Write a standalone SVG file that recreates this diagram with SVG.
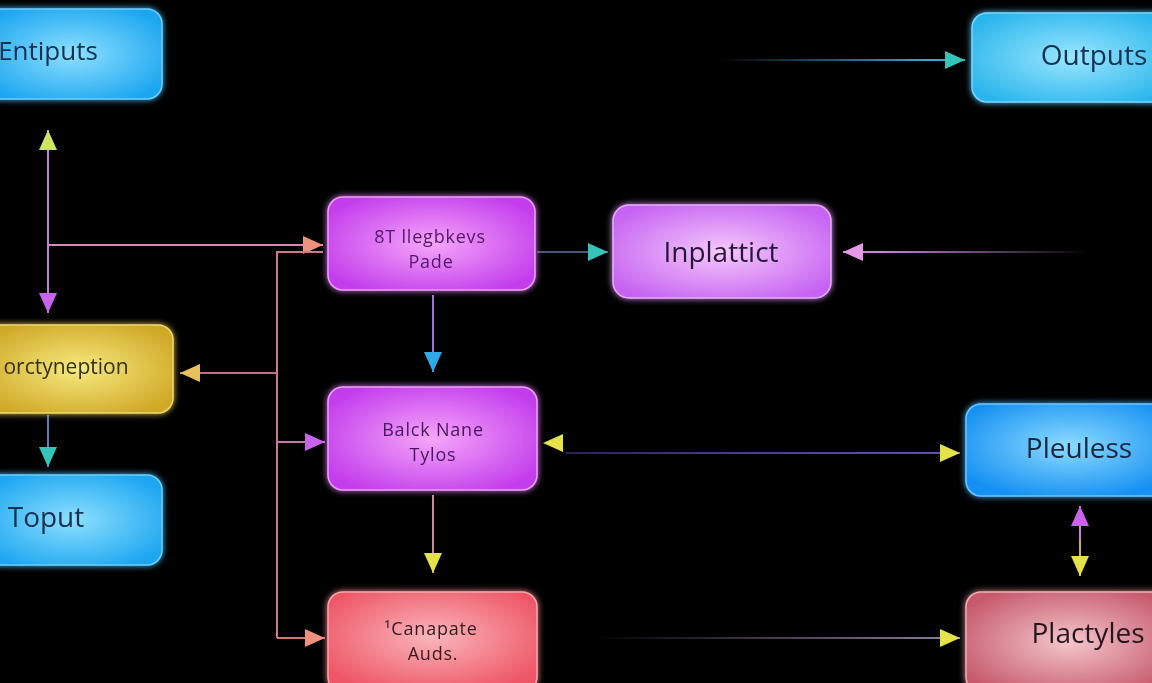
<svg xmlns="http://www.w3.org/2000/svg" width="1152" height="683" viewBox="0 0 1152 683">
<style>
.lbl{font-family:"Open Sans","Liberation Sans",sans-serif;text-anchor:middle;font-weight:500}
.big{font-size:28px}
.mid{font-size:18px;letter-spacing:0.8px}
.box{stroke-width:1.5}
.ln{fill:none;stroke-width:2}
</style>
<defs>
<filter id="glow" x="-20%" y="-20%" width="140%" height="140%">
<feGaussianBlur in="SourceGraphic" stdDeviation="3" result="b"/>
<feMerge><feMergeNode in="b"/><feMergeNode in="SourceGraphic"/></feMerge>
</filter>
<radialGradient id="gBlue" cx="50%" cy="50%" r="60%"><stop offset="0" stop-color="#8ee0ff"/><stop offset="1" stop-color="#1ca6f0"/></radialGradient>
<radialGradient id="gCyan" cx="50%" cy="50%" r="60%"><stop offset="0" stop-color="#9ae6ff"/><stop offset="1" stop-color="#2cb6ec"/></radialGradient>
<radialGradient id="gBlue2" cx="50%" cy="45%" r="60%"><stop offset="0" stop-color="#8cdcff"/><stop offset="1" stop-color="#1690f2"/></radialGradient>
<radialGradient id="gMag" cx="50%" cy="50%" r="60%"><stop offset="0" stop-color="#f6a6fa"/><stop offset="1" stop-color="#c23cec"/></radialGradient>
<radialGradient id="gLil" cx="50%" cy="50%" r="60%"><stop offset="0" stop-color="#f6c8fb"/><stop offset="1" stop-color="#c664f2"/></radialGradient>
<radialGradient id="gYel" cx="50%" cy="50%" r="60%"><stop offset="0" stop-color="#f6ea80"/><stop offset="1" stop-color="#cfa826"/></radialGradient>
<radialGradient id="gRed" cx="50%" cy="45%" r="60%"><stop offset="0" stop-color="#fab6bc"/><stop offset="1" stop-color="#ee5666"/></radialGradient>
<radialGradient id="gPink" cx="50%" cy="50%" r="60%"><stop offset="0" stop-color="#f4c6cc"/><stop offset="1" stop-color="#c65a6c"/></radialGradient>
<linearGradient id="fOut" gradientUnits="userSpaceOnUse" x1="720" y1="0" x2="930" y2="0"><stop offset="0" stop-color="#3aa8d0" stop-opacity="0"/><stop offset="1" stop-color="#3aa8d0"/></linearGradient>
<linearGradient id="fInp" gradientUnits="userSpaceOnUse" x1="1090" y1="0" x2="880" y2="0"><stop offset="0" stop-color="#c888d8" stop-opacity="0"/><stop offset="1" stop-color="#c888d8"/></linearGradient>
<linearGradient id="fPle" gradientUnits="userSpaceOnUse" x1="560" y1="0" x2="945" y2="0"><stop offset="0" stop-color="#5040a8" stop-opacity="0.5"/><stop offset="0.5" stop-color="#4a3c9e"/><stop offset="1" stop-color="#6050b8"/></linearGradient>
<linearGradient id="fPla" gradientUnits="userSpaceOnUse" x1="590" y1="0" x2="940" y2="0"><stop offset="0" stop-color="#7a6a90" stop-opacity="0"/><stop offset="1" stop-color="#8a7898"/></linearGradient>
<marker id="aTeal" viewBox="0 0 20 18" refX="20" refY="9" markerWidth="20" markerHeight="18" markerUnits="userSpaceOnUse" orient="auto"><path d="M0,0L20,9L0,18z" fill="#34c4b8"/></marker>
<marker id="aYel" viewBox="0 0 20 18" refX="20" refY="9" markerWidth="20" markerHeight="18" markerUnits="userSpaceOnUse" orient="auto"><path d="M0,0L20,9L0,18z" fill="#e4e24a"/></marker>
<marker id="aGold" viewBox="0 0 20 18" refX="20" refY="9" markerWidth="20" markerHeight="18" markerUnits="userSpaceOnUse" orient="auto"><path d="M0,0L20,9L0,18z" fill="#e6c05a"/></marker>
<marker id="aVio" viewBox="0 0 20 18" refX="20" refY="9" markerWidth="20" markerHeight="18" markerUnits="userSpaceOnUse" orient="auto"><path d="M0,0L20,9L0,18z" fill="#c864ec"/></marker>
<marker id="aSal" viewBox="0 0 20 18" refX="20" refY="9" markerWidth="20" markerHeight="18" markerUnits="userSpaceOnUse" orient="auto"><path d="M0,0L20,9L0,18z" fill="#f0907c"/></marker>
<marker id="aBlue" viewBox="0 0 20 18" refX="20" refY="9" markerWidth="20" markerHeight="18" markerUnits="userSpaceOnUse" orient="auto"><path d="M0,0L20,9L0,18z" fill="#30a8e8"/></marker>
<marker id="aLime" viewBox="0 0 20 18" refX="20" refY="9" markerWidth="20" markerHeight="18" markerUnits="userSpaceOnUse" orient="auto"><path d="M0,0L20,9L0,18z" fill="#cce466"/></marker>
<marker id="aPink" viewBox="0 0 20 18" refX="20" refY="9" markerWidth="20" markerHeight="18" markerUnits="userSpaceOnUse" orient="auto"><path d="M0,0L20,9L0,18z" fill="#e49ae6"/></marker>
</defs>
<rect x="0" y="0" width="1152" height="683" fill="#000"/>

<g id="connectors">
<path class="ln" d="M48,245V130" stroke="#c07ed8" marker-end="url(#aLime)"/>
<path class="ln" d="M48,245V313" stroke="#c07ed8" marker-end="url(#aVio)"/>
<path class="ln" d="M48,245H323" stroke="#d48ab8" marker-end="url(#aSal)"/>
<path class="ln" d="M323,252H277V638" stroke="#cc7a8c"/>
<path class="ln" d="M277,373H180" stroke="#c46a8a" marker-end="url(#aGold)"/>
<path class="ln" d="M277,442H325" stroke="#c47aa4" marker-end="url(#aVio)"/>
<path class="ln" d="M277,638H325" stroke="#d07c72" marker-end="url(#aSal)"/>
<path class="ln" d="M48,415V467" stroke="#5a7cc0" marker-end="url(#aTeal)"/>
<path class="ln" d="M537,252H608" stroke="#465878" marker-end="url(#aTeal)"/>
<path class="ln" d="M433,295V372" stroke="#9a78c8" marker-end="url(#aBlue)"/>
<path class="ln" d="M433,495V573" stroke="#c88a9a" marker-end="url(#aYel)"/>
<path class="ln" d="M566,453H960" stroke="url(#fPle)" marker-end="url(#aYel)"/>
<path d="M565,443H543" stroke="none" fill="none" marker-end="url(#aYel)"/>
<path class="ln" d="M590,638H960" stroke="url(#fPla)" marker-end="url(#aYel)"/>
<path class="ln" d="M1080,540V506" stroke="#c880d8" marker-end="url(#aVio)"/>
<path class="ln" d="M1080,540V576" stroke="#c8b060" marker-end="url(#aYel)"/>
<path class="ln" d="M720,60H965" stroke="url(#fOut)" marker-end="url(#aTeal)"/>
<path class="ln" d="M1090,252H843" stroke="url(#fInp)" marker-end="url(#aPink)"/>
</g>

<g id="n-entiputs" filter="url(#glow)">
<rect class="box" x="-16" y="9" width="178" height="90" rx="15" fill="url(#gBlue)" stroke="#6cd0ff"/>
<text class="lbl" x="48" y="60" font-size="26" fill="#153050">Entiputs</text>
</g>
<g id="n-outputs" filter="url(#glow)">
<rect class="box" x="972" y="13" width="200" height="89" rx="15" fill="url(#gCyan)" stroke="#78d8ff"/>
<text class="lbl big" x="1094" y="65" fill="#153050">Outputs</text>
</g>
<g id="n-st" filter="url(#glow)">
<rect class="box" x="328" y="197" width="207" height="93" rx="15" fill="url(#gMag)" stroke="#f0a0f8"/>
<text class="lbl mid" x="430" y="243" fill="#521868">8T llegbkevs</text>
<text class="lbl mid" x="431" y="268" fill="#521868">Pade</text>
</g>
<g id="n-inplattict" filter="url(#glow)">
<rect class="box" x="613" y="205" width="218" height="93" rx="16" fill="url(#gLil)" stroke="#e8b0f8"/>
<text class="lbl big" x="721" y="262" fill="#28183a">Inplattict</text>
</g>
<g id="n-orctyneption" filter="url(#glow)">
<rect class="box" x="-16" y="325" width="189" height="88" rx="15" fill="url(#gYel)" stroke="#f0d870"/>
<text class="lbl" x="66" y="374" font-size="21" fill="#363010">orctyneption</text>
</g>
<g id="n-toput" filter="url(#glow)">
<rect class="box" x="-16" y="475" width="178" height="90" rx="15" fill="url(#gBlue)" stroke="#6cd0ff"/>
<text class="lbl big" x="46" y="527" fill="#153050">Toput</text>
</g>
<g id="n-balck" filter="url(#glow)">
<rect class="box" x="328" y="387" width="209" height="103" rx="15" fill="url(#gMag)" stroke="#f0a0f8"/>
<text class="lbl mid" x="433" y="436" fill="#46185e">Balck Nane</text>
<text class="lbl mid" x="433" y="461" fill="#46185e">Tylos</text>
</g>
<g id="n-canapate" filter="url(#glow)">
<rect class="box" x="328" y="592" width="209" height="100" rx="15" fill="url(#gRed)" stroke="#f8a8b0"/>
<text class="lbl mid" x="431" y="635" fill="#361a1c">¹Canapate</text>
<text class="lbl mid" x="433" y="660" fill="#361a1c">Auds.</text>
</g>
<g id="n-pleuless" filter="url(#glow)">
<rect class="box" x="966" y="404" width="206" height="92" rx="15" fill="url(#gBlue2)" stroke="#6cc8ff"/>
<text class="lbl big" x="1079" y="458" fill="#182840">Pleuless</text>
</g>
<g id="n-plactyles" filter="url(#glow)">
<rect class="box" x="966" y="592" width="206" height="100" rx="15" fill="url(#gPink)" stroke="#f0b0b8"/>
<text class="lbl big" x="1088" y="643" fill="#28181e">Plactyles</text>
</g>
</svg>
